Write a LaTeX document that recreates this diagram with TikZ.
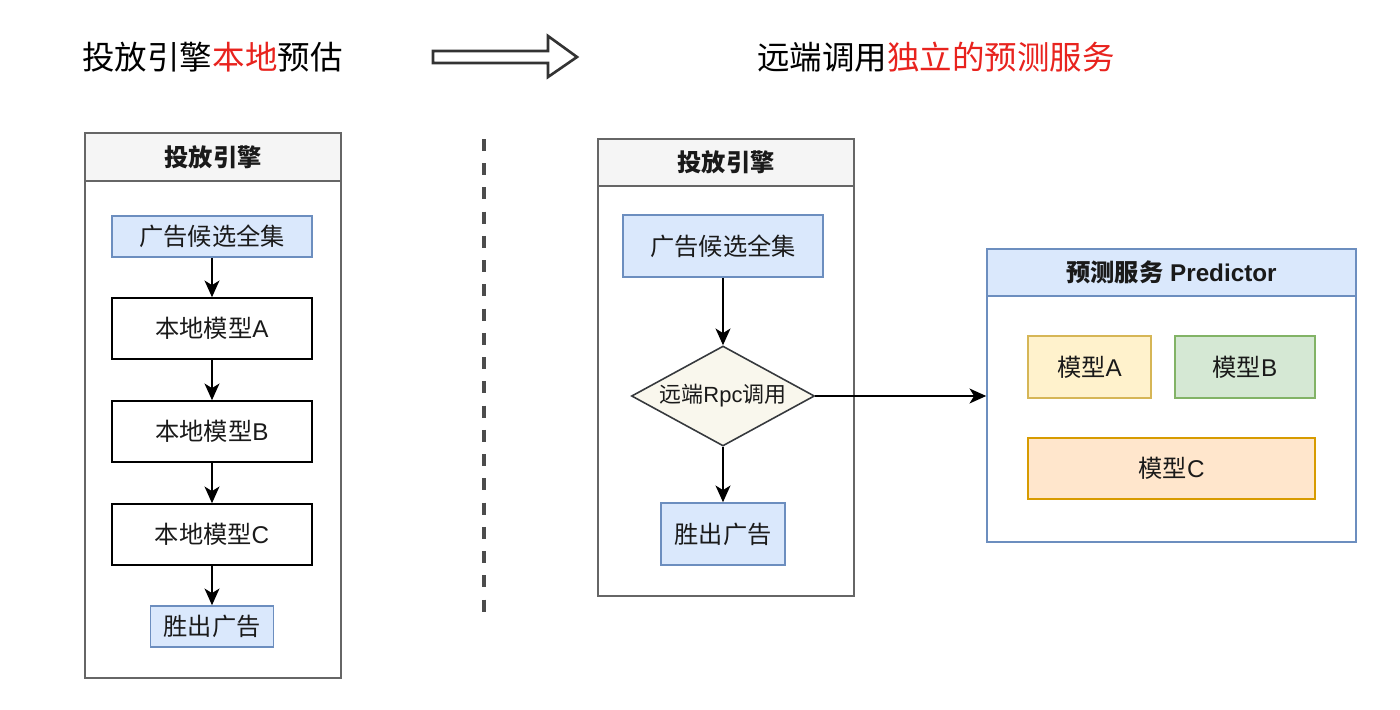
\documentclass[tikz,border=0pt]{standalone}
\usepackage{fontspec}
\setmainfont{Liberation Sans}
\newfontfamily\cjk{Noto Sans CJK SC}
\usetikzlibrary{shapes.geometric,arrows.meta}
\newcommand{\zh}[1]{{\cjk #1}}
\definecolor{hdrgray}{HTML}{F5F5F5}
\definecolor{bordergray}{HTML}{666666}
\definecolor{bluefill}{HTML}{DAE8FC}
\definecolor{blueline}{HTML}{6C8EBF}
\definecolor{yelfill}{HTML}{FFF2CC}
\definecolor{yelline}{HTML}{D6B656}
\definecolor{grnfill}{HTML}{D5E8D4}
\definecolor{grnline}{HTML}{82B366}
\definecolor{orgfill}{HTML}{FFE6CC}
\definecolor{orgline}{HTML}{D79B00}
\definecolor{diafill}{HTML}{F9F7ED}
\definecolor{dialine}{HTML}{36393D}
\definecolor{titlered}{HTML}{E8231E}
\definecolor{txt}{HTML}{1A1A1A}
\tikzset{
  base/.style={draw, line width=0.9pt, inner sep=0pt, text=txt, font=\fontsize{13.8}{16}\selectfont},
  container/.style={base, draw=bordergray, fill=white},
  hdr/.style={base, draw=bordergray, fill=hdrgray, font=\fontsize{13.8}{16}\selectfont\bfseries},
  bluebox/.style={base, draw=blueline, fill=bluefill},
  plainbox/.style={base, draw=black, fill=white},
  yelbox/.style={base, draw=yelline, fill=yelfill},
  grnbox/.style={base, draw=grnline, fill=grnfill},
  orgbox/.style={base, draw=orgline, fill=orgfill},
  dia/.style={base, shape=diamond, draw=dialine, fill=diafill, aspect=1.83, font=\fontsize{12.5}{15}\selectfont},
  conn/.style={line width=0.9pt, draw=black, -{Stealth[length=9.5pt,width=8.5pt,inset=2.6pt]}},
  ttl/.style={inner sep=0pt, font=\fontsize{18.5}{22}\selectfont, text=black},
}
\begin{document}
\begin{tikzpicture}[x=0.02cm,y=-0.02cm]
\useasboundingbox (0,0) rectangle (1400,710);
% titles
\node[ttl] (t1) at (212.5,57) {\zh{投放引擎}\textcolor{titlered}{\zh{本地}}\zh{预估}};
\node[ttl] (t2) at (936,57) {\zh{远端调用}\textcolor{titlered}{\zh{独立的预测服务}}};
% big arrow
\draw[line width=1.5pt, draw=black!80, fill=white, line join=miter]
  (433,51) -- (548,51) -- (548,36) -- (577,57) -- (548,77) -- (548,63) -- (433,63) -- cycle;
% dashed separator
\coordinate (d1) at (484,139);
\coordinate (d2) at (484,620);
\draw[line width=2.2pt, draw=black!70, dash pattern=on 6.8pt off 7pt] (d1) -- (d2);

% left container
\node[container, minimum width=256*0.02cm, minimum height=545*0.02cm] (L) at (213,405.5) {};
\node[hdr, minimum width=256*0.02cm, minimum height=48*0.02cm] (LH) at (213,157) {\zh{投放引擎}};
\node[bluebox, minimum width=200*0.02cm, minimum height=41*0.02cm] (L1) at (212,236.5) {\zh{广告候选全集}};
\node[plainbox, minimum width=200*0.02cm, minimum height=61*0.02cm] (L2) at (212,328.5) {\zh{本地模型}A};
\node[plainbox, minimum width=200*0.02cm, minimum height=61*0.02cm] (L3) at (212,431.5) {\zh{本地模型}B};
\node[plainbox, minimum width=200*0.02cm, minimum height=61*0.02cm] (L4) at (212,534.5) {\zh{本地模型}C};
\node[bluebox, minimum width=123*0.02cm, minimum height=41*0.02cm] (L5) at (212,626.5) {\zh{胜出广告}};
\draw[conn] (L1) -- (L2);
\draw[conn] (L2) -- (L3);
\draw[conn] (L3) -- (L4);
\draw[conn] (L4) -- (L5);

% right container
\node[container, minimum width=256*0.02cm, minimum height=457*0.02cm] (R) at (726,367.5) {};
\node[hdr, minimum width=256*0.02cm, minimum height=47*0.02cm] (RH) at (726,162.5) {\zh{投放引擎}};
\node[bluebox, minimum width=200*0.02cm, minimum height=62*0.02cm] (R1) at (723,246) {\zh{广告候选全集}};
\node[dia, minimum width=183*0.02cm, minimum height=100*0.02cm] (D) at (723,396) {\zh{远端}Rpc\zh{调用}};
\node[bluebox, minimum width=124*0.02cm, minimum height=62*0.02cm] (R2) at (723,534) {\zh{胜出广告}};
\draw[conn] (R1) -- (D);
\draw[conn] (D) -- (R2);

% predictor
\node[base, draw=blueline, fill=white, minimum width=369*0.02cm, minimum height=293*0.02cm] (P) at (1171.5,395.5) {};
\node[base, draw=blueline, fill=bluefill, font=\fontsize{13.8}{16}\selectfont\bfseries, minimum width=369*0.02cm, minimum height=47*0.02cm] (PH) at (1171.5,272.5) {\zh{预测服务} Predictor};
\node[yelbox, minimum width=123*0.02cm, minimum height=62*0.02cm] (MA) at (1089.5,367) {\zh{模型}A};
\node[grnbox, minimum width=140*0.02cm, minimum height=62*0.02cm] (MB) at (1245,367) {\zh{模型}B};
\node[orgbox, minimum width=287*0.02cm, minimum height=61*0.02cm] (MC) at (1171.5,468.5) {\zh{模型}C};
\draw[conn] (D.east) -- (D.east -| P.west);
\end{tikzpicture}
\end{document}
